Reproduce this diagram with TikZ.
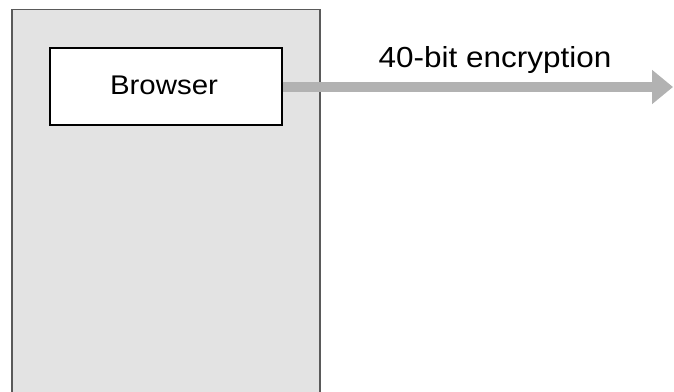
\documentclass[tikz,border=0pt]{standalone}
\usepackage{fontspec}
\setmainfont{Liberation Sans}
\usetikzlibrary{arrows.meta}
\definecolor{panelgray}{HTML}{E3E3E3}
\definecolor{edgegray}{HTML}{5A5A5A}
\definecolor{arrowgray}{HTML}{B2B2B2}
\tikzset{
  panel/.style={fill=panelgray, draw=edgegray, line width=1.3pt},
  boxnode/.style={draw=black, fill=white, line width=1.3pt, minimum width=232pt, minimum height=77pt, inner sep=0pt},
  boxtext/.style={font=\fontsize{27}{32}\selectfont, inner sep=0pt, xscale=1.09},
  label/.style={font=\fontsize{29}{34}\selectfont, inner sep=0pt, xscale=1.085},
  flow/.style={draw=arrowgray, line width=10pt, -{Triangle[length=21pt, width=33pt]}}
}
\begin{document}
\begin{tikzpicture}[x=1pt, y=-1pt]
  \useasboundingbox (0,0) rectangle (674,391);
  % client panel
  \draw[panel] (12,9.5) rectangle (320,395);
  % browser box
  \node[boxnode] (browser) at (166,86.5) {};
  \node[boxtext, anchor=base] (btxt) at (164,94.3) {Browser};
  % outgoing link
  \coordinate (out) at (673,87);
  \draw[flow] (browser.east |- out) -- (out);
  \node[label, anchor=base] (enc) at (495,67.5) {40-bit encryption};
\end{tikzpicture}
\end{document}
